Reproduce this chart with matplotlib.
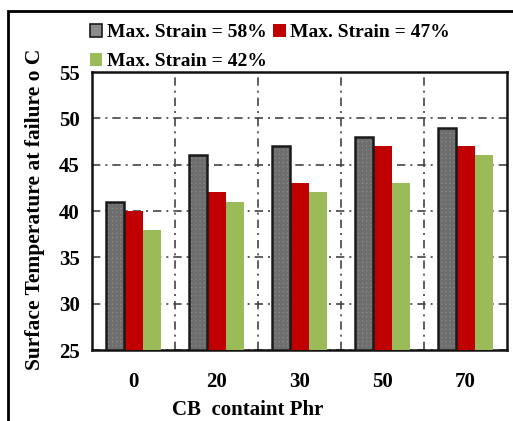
import matplotlib
matplotlib.use("Agg")
import matplotlib.pyplot as plt
import numpy as np
from matplotlib.patches import Rectangle, Patch

categories = ["0", "20", "30", "50", "70"]
series_names = ["Max. Strain = 58%", "Max. Strain = 47%", "Max. Strain = 42%"]
strain58 = [41, 46, 47, 48, 49]
strain47 = [40, 42, 43, 47, 47]
strain42 = [38, 41, 42, 43, 46]
yticks = [25, 30, 35, 40, 45, 50, 55]

plt.rcParams['font.family'] = ['Liberation Serif', 'DejaVu Serif']
plt.rcParams['font.weight'] = 'bold'
plt.rcParams['hatch.linewidth'] = 2.0

fig = plt.figure(figsize=(5.13, 4.21), dpi=100)
W, H = 513, 421
ax = fig.add_axes([92 / W, 1 - 350 / H, (507 - 92) / W, (350 - 72) / H])

x = np.arange(len(categories))
bw = 0.222
gridls = (0, (5, 3, 1.2, 3))
ax.bar(x - bw, [v - 25 for v in strain58], bw, bottom=25, color='#8c8c8c',
       hatch='++++', edgecolor='#6e6e6e', linewidth=0, zorder=3)
ax.bar(x - bw, [v - 25 for v in strain58], bw, bottom=25, fill=False,
       edgecolor='#1a1a1a', linewidth=1.8, zorder=4)
ax.bar(x, [v - 25 for v in strain47], bw, bottom=25, color='#c00000', zorder=3)
ax.bar(x + bw, [v - 25 for v in strain42], bw, bottom=25, color='#9bbb59', zorder=3)

ax.set_xlim(-0.5, len(categories) - 0.5)
ax.set_ylim(25, 55)
ax.set_yticks(yticks)
ax.set_xticks(x)
ax.set_xticklabels(categories)
ax.set_xticks(np.arange(0.5, len(categories) - 0.5, 1), minor=True)
ax.tick_params(axis='both', which='both', length=0, labelsize=15, pad=9)
ax.tick_params(axis='x', pad=16)
ax.grid(True, which='minor', axis='x', linestyle=gridls, color='#444444', linewidth=1.2, zorder=0)
ax.grid(True, which='major', axis='y', linestyle=gridls, color='#444444', linewidth=1.2, zorder=0)
for s in ax.spines.values():
    s.set_linewidth(1.8)
    s.set_color('#111111')

ax.set_ylabel("Surface Temperature at failure o C", fontsize=15.5, fontweight='bold')
ax.set_xlabel("CB  containt Phr", fontsize=15, fontweight='bold')
ax.yaxis.set_label_coords((45 - 92) / 415, (350 - 209) / 278)
ax.xaxis.set_label_coords((248 - 92) / 415, -(400 - 350) / 278)

handles = [Patch(facecolor='#8c8c8c', edgecolor='#1a1a1a', linewidth=1.2),
           Patch(facecolor='#9bbb59'),
           Patch(facecolor='#c00000')]
labels = [series_names[0], series_names[2], series_names[1]]
leg = fig.legend(handles, labels, loc='upper left', bbox_to_anchor=(82 / W, 1 - 16 / H),
                 ncol=2, frameon=False, fontsize=14, handlelength=0.65, handleheight=0.65,
                 handletextpad=0.25, columnspacing=0.3, labelspacing=0.6, borderaxespad=0)

fig.patches.append(Rectangle((8 / W, -0.1), 1.2, 1 - 11 / H + 0.1, transform=fig.transFigure,
                             fill=False, edgecolor='black', linewidth=2))
fig.savefig("out.png", dpi=100)
